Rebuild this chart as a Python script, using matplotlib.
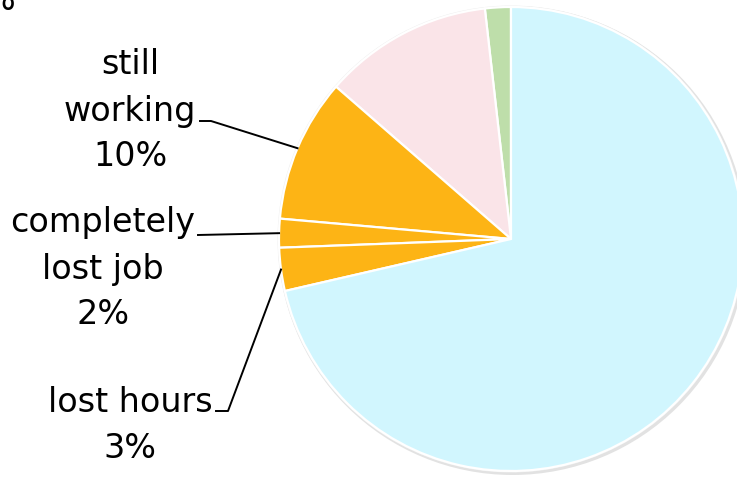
import numpy as np
import matplotlib.pyplot as plt
from matplotlib.patches import Circle

# slice shares in percent, counter-clockwise from 12 o'clock
shares = [1.8, 11.8, 10, 2, 3, 71.4]
colors = ['#BEDEAA', '#FAE4E8', '#FDB415', '#FDB415', '#FDB415', '#D1F6FE']

# labelled slices: index into shares, text, text centre (x, y)
label_idx = [2, 3, 4]
label_txt = ['still\nworking\n10%', 'completely\nlost job\n2%', 'lost hours\n3%']
label_pos = [(130, 370), (103, 212), (130, 55)]
# elbow of each leader line (start, knee)
leader_pts = [((200, 359), (211, 359)), ((198, 245), (198, 245)), ((216, 69), (228, 69))]

W, H = 737, 481
cx, cy, r = 511, 241, 232

fig = plt.figure(figsize=(W / 100, H / 100), dpi=100)
ax = fig.add_axes([0, 0, 1, 1])

# soft grey rim under the pie
ax.add_patch(Circle((cx + 1.5, cy - 1.5), r + 2.5, facecolor='#e2e2e2', edgecolor='none', zorder=0))
ax.add_patch(Circle((cx, cy), r + 1.5, facecolor='#efefef', edgecolor='none', zorder=0))

wedges, _ = ax.pie(shares, colors=colors, startangle=90, counterclock=True,
                   center=(cx, cy), radius=r, frame=True,
                   wedgeprops=dict(edgecolor='white', linewidth=1.6))
ax.set_xlim(0, W)
ax.set_ylim(0, H)
ax.set_aspect('equal')
ax.axis('off')

for i, txt, pos, (p0, p1) in zip(label_idx, label_txt, label_pos, leader_pts):
    w = wedges[i]
    mid = np.deg2rad((w.theta1 + w.theta2) / 2)
    ex, ey = cx + r * np.cos(mid), cy + r * np.sin(mid)
    ax.plot([p0[0], p1[0], ex], [p0[1], p1[1], ey], color='black', lw=1.4, zorder=5)
    ax.text(pos[0], pos[1], txt, ha='center', va='center', fontsize=24,
            linespacing=1.5, family='DejaVu Sans', color='black')

# tail of a label running off the top edge
ax.text(15, H - 10, '%', ha='right', va='baseline', fontsize=24, family='DejaVu Sans')

fig.savefig('out.png', dpi=100)
